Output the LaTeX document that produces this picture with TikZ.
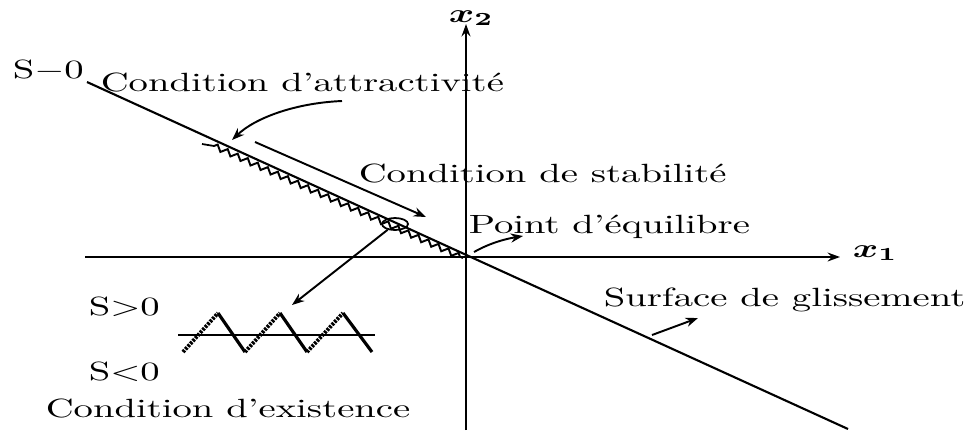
\documentclass[tikz,border=0pt]{standalone}
\usepackage{amsmath, amssymb}
\usetikzlibrary{arrows.meta, shapes.geometric, decorations.pathmorphing}
\tikzset{
  lbl/.style      = {font=\normalsize, xscale=1.1, yscale=0.75, inner sep=0pt, anchor=base west},
  axe/.style      = {-{Stealth[length=3.5pt, width=2.5pt]}, line width=0.6pt},
  arr/.style      = {-{Stealth[length=3.5pt, width=2.6pt]}, line width=0.55pt},
  surf/.style     = {line width=0.6pt},
  dent/.style     = {decorate, decoration={zigzag, segment length=0.11cm, amplitude=0.028cm},
                     line width=0.55pt},
  loupe/.style    = {ellipse, draw, line width=0.5pt, minimum width=0.26cm,
                     minimum height=0.12cm, inner sep=0pt},
  montee/.style   = {line width=1.1pt, dash pattern=on 0.7pt off 0.35pt},
  descente/.style = {line width=0.9pt},
}

\begin{document}
\begin{tikzpicture}[x=0.01cm, y=-0.01cm]
  \useasboundingbox (0,0) rectangle (971,430);
  % axes
  \coordinate (O)   at (466,257);
  \coordinate (x1g) at (85,257);
  \coordinate (x1d) at (840,257);
  \coordinate (x2b) at (466,430);
  \coordinate (x2h) at (466,24);
  \draw[axe] (x1g) -- (x1d);
  \draw[axe] (x2b) -- (x2h);
  \node[lbl] (x1) at (852,257) {$\boldsymbol{x_1}$};
  \node[lbl] (x2) at (448,22) {$\boldsymbol{x_2}$};
  % surface de glissement S=0
  \coordinate (sA) at (87,82);
  \coordinate (sB) at (848,429);
  \draw[surf] (sA) -- (sB);
  % mouvement de glissement le long de la surface
  \coordinate (zt) at (202,144);
  \coordinate (zA) at (214,146);
  \coordinate (zB) at (463,258);
  \draw[line width=0.5pt] (zt) -- (zA);
  \draw[dent] (zA) -- (zB);
  \node[loupe] (loupe) at (395,224) {};
  % textes
  \node[lbl] (s0)    at (12,78)   {S$-$0};
  \node[lbl] (attr)  at (100,91)  {Condition d'attractivité};
  \node[lbl] (stab)  at (358,182) {Condition de stabilité};
  \node[lbl] (equi)  at (468,233) {Point d'équilibre};
  \node[lbl] (surfl) at (603,306) {Surface de glissement};
  \node[lbl] (spos)  at (88,315)  {S$>$0};
  \node[lbl] (sneg)  at (88,380)  {S$<$0};
  \node[lbl] (exis)  at (45,417)  {Condition d'existence};
  % fleches
  \coordinate (aA) at (342,101);
  \coordinate (aB) at (232,140);
  \draw[arr] (aA) .. controls (295,103) and (255,118) .. (aB);
  \coordinate (bA) at (255,142);
  \coordinate (bB) at (426,217);
  \draw[arr] (bA) -- (bB);
  \coordinate (cB) at (292,305);
  \draw[arr] (loupe) -- (cB);
  \coordinate (dA) at (474,252);
  \coordinate (dB) at (523,236);
  \draw[arr] (dA) .. controls (490,243) and (505,239) .. (dB);
  \coordinate (eA) at (652,335);
  \coordinate (eB) at (698,318);
  \draw[arr] (eA) -- (eB);
  % condition d'existence : commutation autour de S=0
  \coordinate (tg) at (178,335);
  \coordinate (td) at (375,335);
  \draw[line width=0.5pt] (tg) -- (td);
  \foreach \b/\p in {183/218, 245/280, 307/343} {
    \draw[montee] (\b,352) -- (\p,313);
  }
  \foreach \p/\b in {218/245, 280/307, 343/372} {
    \draw[descente] (\p,313) -- (\b,352);
  }
\end{tikzpicture}
\end{document}
